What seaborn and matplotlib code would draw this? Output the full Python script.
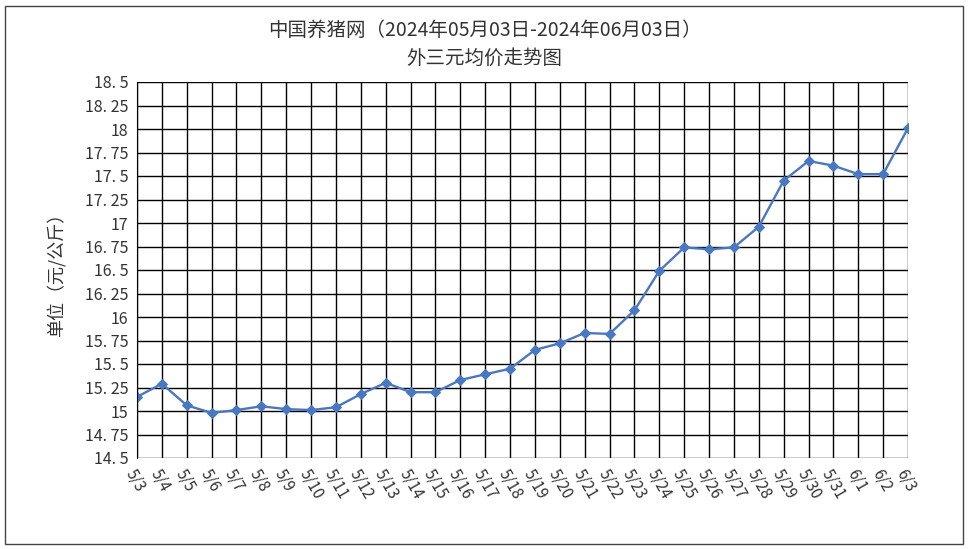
import matplotlib.pyplot as plt
import pandas as pd
import seaborn as sns
from matplotlib.patches import Rectangle

dates = ["5/3", "5/4", "5/5", "5/6", "5/7", "5/8", "5/9", "5/10", "5/11", "5/12",
         "5/13", "5/14", "5/15", "5/16", "5/17", "5/18", "5/19", "5/20", "5/21",
         "5/22", "5/23", "5/24", "5/25", "5/26", "5/27", "5/28", "5/29", "5/30",
         "5/31", "6/1", "6/2", "6/3"]
prices = [15.15, 15.29, 15.06, 14.98, 15.01, 15.05, 15.02, 15.01, 15.04, 15.18,
          15.30, 15.20, 15.20, 15.33, 15.39, 15.45, 15.65, 15.72, 15.83, 15.82,
          16.07, 16.49, 16.74, 16.72, 16.74, 16.96, 17.45, 17.66, 17.61, 17.52,
          17.52, 18.01]
yticks = [14.5 + 0.25 * i for i in range(17)]

sns.set_style("white")
plt.rcParams["font.family"] = ["Noto Sans CJK SC", "DejaVu Sans"]

df = pd.DataFrame({"idx": range(len(dates)), "price": prices})

fig = plt.figure(figsize=(9.69, 5.49), dpi=100)
ax = fig.add_axes([137 / 969, 1 - 458 / 549, (908 - 137) / 969, (458 - 82) / 549])
sns.lineplot(data=df, x="idx", y="price", ax=ax, color="#4a78c0", linewidth=1.7,
             marker="D", markersize=5, markeredgecolor="#4a78c0")

ax.set_xlim(0, len(dates) - 1)
ax.set_ylim(14.5, 18.5)
ax.set_yticks(yticks)
ax.set_yticklabels([f"{v:g}".replace(".", ". ") for v in yticks], fontsize=11.5, color="#333333")
ax.set_xticks(range(len(dates)))
ax.set_xticklabels(dates, rotation=-60, ha="left", rotation_mode="anchor", fontsize=11, color="#333333")
ax.grid(True, color="black", linewidth=1)
for s in ["top", "right", "bottom"]:
    ax.spines[s].set_visible(False)
ax.spines["left"].set_color("black")
ax.tick_params(axis="both", length=0, pad=6)
ax.set_xlabel("")
ax.set_ylabel("单位（元/公斤）", fontsize=13, color="#333333", labelpad=14)

fig.text(0.5, 1 - 30 / 549, "中国养猪网（2024年05月03日-2024年06月03日）", ha="center", va="center", fontsize=14, color="#333333")
fig.text(0.5, 1 - 58 / 549, "外三元均价走势图", ha="center", va="center", fontsize=14, color="#333333")
fig.patches.append(Rectangle((5 / 969, 5 / 549), 958 / 969, 538 / 549, transform=fig.transFigure,
                             fill=False, edgecolor="#444444", linewidth=1))

fig.savefig("out.png", dpi=100)
